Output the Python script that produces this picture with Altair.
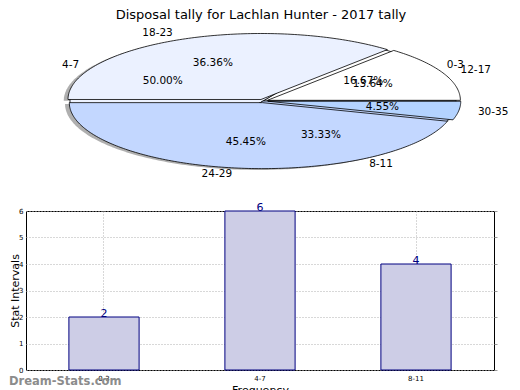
import altair as alt
import numpy as np
import pandas as pd

TITLE = "Disposal tally for Lachlan Hunter - 2017 tally"
WATERMARK = "Dream-Stats.com"

# first pie (also the bar chart)
inner_labels = ["0-3", "4-7", "8-11"]
inner_values = [2, 6, 4]
inner_colors = ["#ffffff", "#edf2ff", "#c3d7ff"]

# second pie drawn on top
outer_labels = ["12-17", "18-23", "24-29", "30-35"]
outer_values = [3, 8, 10, 1]
outer_colors = ["#ffffff", "#ebf1ff", "#c3d7ff", "#b4d3ff"]

bar_categories = inner_labels
bar_values = inner_values

X_AXIS_TITLE = "Frequency"
Y_AXIS_TITLE = "Stat Intervals"
y_ticks = [0, 1, 2, 3, 4, 5, 6]


def build_pie(labels, values, ring, explode, dx=0.0, dy=0.0):
    total = float(sum(values))
    rows, names, pcts = [], [], []
    start = 0.0
    for lab, v in zip(labels, values):
        frac = v / total
        a0, a1 = start * 360.0, (start + frac) * 360.0
        mid = np.radians((a0 + a1) / 2.0)
        ox = explode * np.cos(mid) + dx
        oy = explode * np.sin(mid) + dy
        key = f"{ring}:{lab}"
        pts = [(ox, oy)]
        n = max(2, int(np.ceil(a1 - a0)))
        for a in np.linspace(a0, a1, n + 1):
            r = np.radians(a)
            pts.append((ox + np.cos(r), oy + np.sin(r)))
        pts.append((ox, oy))
        for i, (x, y) in enumerate(pts):
            rows.append({"key": key, "i": i, "x": x, "y": y})
        names.append({
            "x": ox + 1.1 * np.cos(mid), "y": oy + 1.1 * np.sin(mid),
            "text": lab, "side": "left" if np.cos(mid) > 0 else "right",
        })
        pcts.append({
            "x": ox + 0.6 * np.cos(mid), "y": oy + 0.6 * np.sin(mid),
            "text": f"{frac * 100:.2f}%",
        })
        start += frac
    return pd.DataFrame(rows), pd.DataFrame(names), pd.DataFrame(pcts)


in_poly, in_names, in_pcts = build_pie(inner_labels, inner_values, "a", 0.0)
out_poly, out_names, out_pcts = build_pie(outer_labels, outer_values, "b", 0.025)
shadow_poly, _, _ = build_pie(outer_labels, outer_values, "s", 0.025, -0.022, -0.02)

names = pd.concat([in_names, out_names], ignore_index=True)
pcts = pd.concat([in_pcts, out_pcts], ignore_index=True)

all_keys = [f"a:{l}" for l in inner_labels] + [f"b:{l}" for l in outer_labels]
all_colors = inner_colors + outer_colors

PW, PH = 468, 172
xs = alt.Scale(domain=[-237 / 193, 231 / 193], nice=False, zero=False)
ys = alt.Scale(domain=[-80 / 66, 92 / 66], nice=False, zero=False)
X = alt.X("x:Q", scale=xs, axis=None)
Y = alt.Y("y:Q", scale=ys, axis=None)
FILL = alt.Fill("key:N", scale=alt.Scale(domain=all_keys, range=all_colors), legend=None)


def wedge_layer(df):
    return alt.Chart(df).mark_line(stroke="black", strokeWidth=0.8).encode(
        x=X, y=Y, order="i:Q", detail="key:N", fill=FILL,
    )


shadow = alt.Chart(shadow_poly).mark_line(
    fill="#7a7a7a", fillOpacity=0.6, strokeOpacity=0
).encode(x=X, y=Y, order="i:Q", detail="key:N")

inner = wedge_layer(in_poly)
outer = wedge_layer(out_poly)

lab_left = alt.Chart(names[names.side == "left"]).mark_text(
    align="left", baseline="middle", fontSize=10.5, color="black"
).encode(x=X, y=Y, text="text:N")
lab_right = alt.Chart(names[names.side == "right"]).mark_text(
    align="right", baseline="middle", fontSize=10.5, color="black"
).encode(x=X, y=Y, text="text:N")
pct_text = alt.Chart(pcts).mark_text(
    align="center", baseline="middle", fontSize=10.5, color="black"
).encode(x=X, y=Y, text="text:N")

title_text = alt.Chart(pd.DataFrame({"t": [TITLE]})).mark_text(
    align="center", baseline="top", fontSize=13, color="black"
).encode(x=alt.value(235), y=alt.value(0), text="t:N")

pie = alt.layer(shadow, inner, outer, lab_left, lab_right, pct_text, title_text).properties(
    width=PW, height=PH, view=alt.ViewBackground(stroke="transparent")
)

# ---- bar chart ----
bdf = pd.DataFrame({"cat": bar_categories, "val": bar_values})
grid_kw = dict(grid=True, gridColor="#b0b0b0", gridDash=[1, 2], gridWidth=1,
               ticks=False, domain=False, labelFontSize=7, labelColor="black",
               labelOverlap=False,
               titleFontSize=11, titleFontWeight="normal", titleColor="black")
BX = alt.X("cat:N", sort=bar_categories,
           scale=alt.Scale(paddingInner=0.55, paddingOuter=0.275),
           axis=alt.Axis(labelAngle=0, labelPadding=4, title=X_AXIS_TITLE,
                         titlePadding=3, **grid_kw))
YSCALE = alt.Scale(domain=[0, 6], nice=False)
BY = alt.Y("val:Q", scale=YSCALE,
           axis=alt.Axis(values=y_ticks, labelPadding=3, title=Y_AXIS_TITLE,
                         titleX=-6, titleY=79.5, **grid_kw))

bars = alt.Chart(bdf).mark_bar(fill="#cdcde6", stroke="#000080", strokeWidth=1).encode(
    x=BX, y=BY
)
right_ticks = alt.Chart(bdf).mark_bar(opacity=0).encode(
    x=BX,
    y=alt.Y("val:Q", scale=YSCALE,
            axis=alt.Axis(orient="right", values=y_ticks, labels=False, ticks=True,
                          tickSize=3, tickColor="#999999", domain=False, grid=False,
                          title=None)),
)
bar_text = alt.Chart(bdf).mark_text(
    baseline="alphabetic", fontSize=11, color="#000080"
).encode(x=BX, y=alt.Y("val:Q", scale=YSCALE, axis=None), text="val:Q")
water = alt.Chart(pd.DataFrame({"t": [WATERMARK]})).mark_text(
    align="left", baseline="alphabetic", fontSize=11.5, color="#8c8c8c", fontWeight="bold"
).encode(x=alt.value(-17), y=alt.value(174), text="t:N")

barchart = alt.layer(bars, right_ticks, bar_text, water).resolve_axis(
    y="independent"
).properties(
    width=468, height=159, view=alt.ViewBackground(stroke="black", strokeWidth=1)
)

chart = alt.vconcat(pie, barchart, spacing=30, bounds="flush").properties(
    padding=0
).configure(font="DejaVu Sans")

chart.save("out.html", embed_options={"renderer": "svg", "actions": False})
